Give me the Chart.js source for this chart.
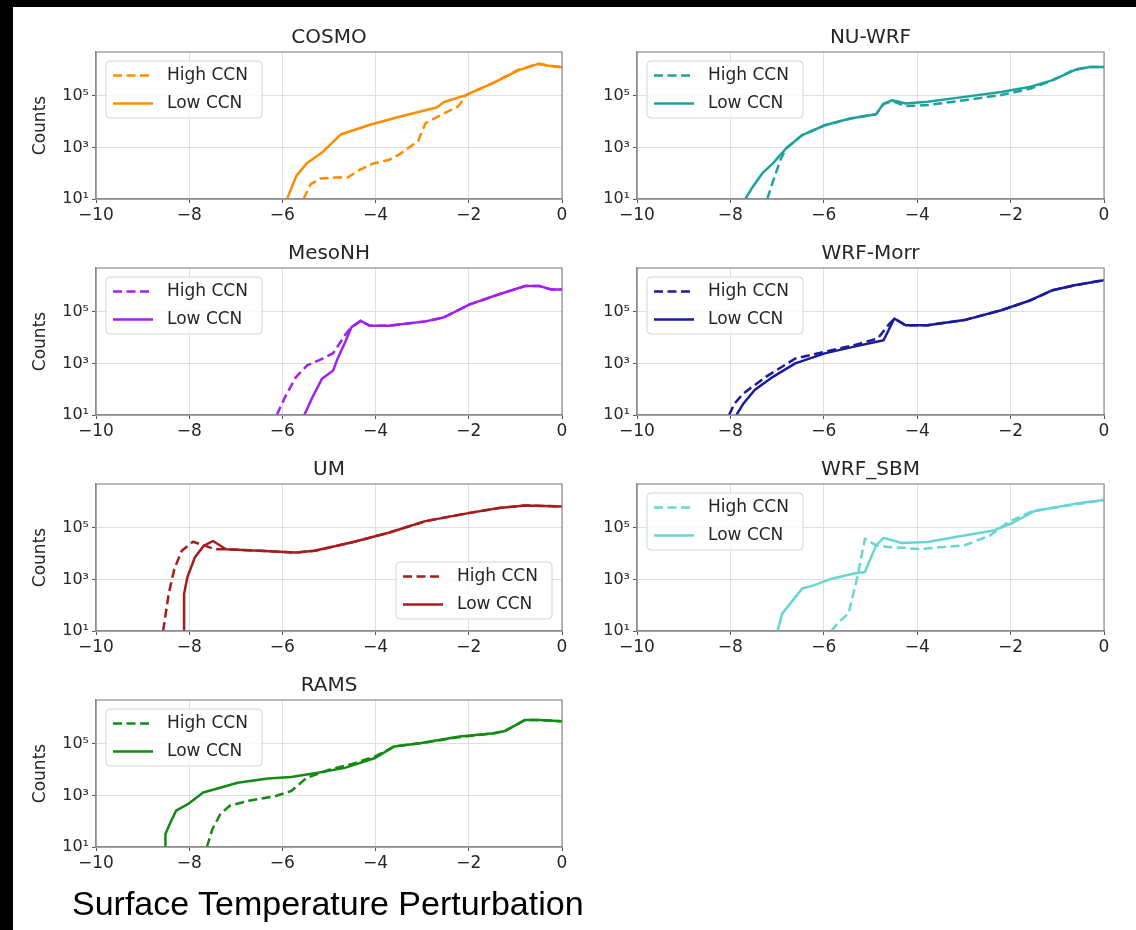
<!DOCTYPE html>
<html><head><meta charset="utf-8">
<script src="https://cdn.jsdelivr.net/npm/chart.js@4.4.0/dist/chart.umd.min.js"></script>
<style>
html,body{margin:0;padding:0;background:#fff;}
body{width:1136px;height:930px;position:relative;overflow:hidden;}
canvas{position:absolute;}
#topbar{position:absolute;left:0;top:0;width:1136px;height:7px;background:#000;z-index:5;}
#leftbar{position:absolute;left:0;top:0;width:13px;height:930px;background:#000;z-index:5;}
#xlabel{position:absolute;left:72px;top:886px;font-family:"Liberation Sans",Arial,sans-serif;font-size:34px;line-height:34px;color:#000;white-space:nowrap;z-index:5;}
</style>
</head>
<body>
<script>
// ---- tick labels ----
const xTickValues = [-10, -8, -6, -4, -2, 0];
const yTickValues = [10, 1000, 100000];
const yTickLabels = ['10\u00B9', '10\u00B3', '10\u2075'];
const seriesLabels = ['High CCN', 'Low CCN'];
const panelNames = ['COSMO', 'NU-WRF', 'MesoNH', 'WRF-Morr', 'UM', 'WRF_SBM', 'RAMS'];

// ---- COSMO ----
const cosmoHighX = [-5.55,-5.39,-5.19,-4.91,-4.60,-4.32,-4.04,-3.72,-3.49,-3.09,-2.93,-2.53,-2.22,-2.06,-1.43,-0.95,-0.51,-0.32,0];
const cosmoHighY = [10,38,62,68,68,141,240,324,537,1740,8710,20900,39800,107000,347000,1000000,1740000,1510000,1290000];
const cosmoLowX = [-5.90,-5.70,-5.47,-5.15,-4.75,-4.12,-3.49,-2.69,-2.53,-2.06,-1.43,-0.95,-0.51,-0.32,0];
const cosmoLowY = [10,79,251,631,3160,7590,15500,35500,57500,107000,347000,955000,1740000,1510000,1290000];

// ---- NU-WRF ----
const nuwrfHighX = [-7.21,-7.09,-6.93,-6.81,-6.46,-5.98,-5.43,-4.88,-4.72,-4.53,-4.25,-3.78,-2.99,-2.20,-1.57,-1.10,-0.63,-0.31,0];
const nuwrfHighY = [10,47,324,912,3020,7240,13200,19500,47900,63100,39800,43700,67600,107000,191000,407000,1050000,1320000,1320000];
const nuwrfLowX = [-7.68,-7.52,-7.32,-7.09,-6.81,-6.46,-5.98,-5.43,-4.88,-4.72,-4.53,-4.25,-3.78,-2.99,-2.20,-1.57,-1.10,-0.63,-0.31,0];
const nuwrfLowY = [10,30,98,240,912,3020,7240,13200,19500,50100,67600,50100,58900,91200,141000,224000,407000,1000000,1320000,1320000];

// ---- MesoNH ----
const mesoHighX = [-6.12,-5.94,-5.71,-5.47,-5.15,-4.91,-4.64,-4.52,-4.32,-4.12,-3.72,-2.93,-2.54,-1.98,-1.35,-0.79,-0.48,-0.24,0];
const mesoHighY = [10,51,295,832,1510,2510,13800,25100,44700,28800,28800,42700,60300,195000,479000,1000000,1000000,741000,741000];
const mesoLowX = [-5.53,-5.35,-5.15,-4.91,-4.83,-4.64,-4.52,-4.32,-4.12,-3.72,-2.93,-2.54,-1.98,-1.35,-0.79,-0.48,-0.24,0];
const mesoLowY = [10,51,257,537,1320,7590,25100,44700,28800,28800,42700,60300,195000,479000,1000000,1000000,741000,741000];

// ---- WRF-Morr ----
const morrHighX = [-8.03,-7.91,-7.72,-7.24,-6.61,-5.98,-5.35,-4.84,-4.65,-4.49,-4.25,-3.78,-2.99,-2.20,-1.57,-1.10,-0.63,0];
const morrHighY = [10,28,69,302,1550,2820,5130,9330,26300,55000,30200,30200,47900,115000,282000,692000,1070000,1700000];
const morrLowX = [-7.87,-7.72,-7.48,-7.09,-6.61,-5.98,-5.35,-4.72,-4.49,-4.25,-3.78,-2.99,-2.20,-1.57,-1.10,-0.63,0];
const morrLowY = [10,28,93,302,1000,2450,4470,7940,55000,30200,30200,47900,115000,282000,692000,1070000,1700000];

// ---- UM ----
const umHighX = [-8.56,-8.44,-8.32,-8.16,-7.92,-7.65,-7.45,-7.21,-6.50,-5.71,-5.31,-4.52,-3.72,-2.93,-1.98,-1.35,-0.79,0];
const umHighY = [10,275,2510,12900,28800,20000,14800,14800,12900,11000,12900,26900,64600,182000,380000,589000,741000,676000];
const umLowX = [-8.11,-8.11,-8.04,-7.88,-7.69,-7.49,-7.21,-6.50,-5.71,-5.31,-4.52,-3.72,-2.93,-1.98,-1.35,-0.79,0];
const umLowY = [10,275,1200,7080,20000,30900,14800,12900,11000,12900,26900,64600,182000,380000,589000,741000,676000];

// ---- WRF_SBM ----
const sbmHighX = [-5.84,-5.67,-5.47,-5.28,-5.12,-4.88,-4.57,-3.94,-2.99,-2.44,-2.05,-1.50,-0.63,0];
const sbmHighY = [10,23,48,1260,38000,20900,17800,15100,20900,50100,166000,468000,794000,1200000];
const sbmLowX = [-6.99,-6.89,-6.69,-6.46,-6.22,-5.83,-5.35,-5.12,-4.88,-4.72,-4.33,-3.78,-2.99,-2.36,-1.97,-1.50,-0.63,0];
const sbmLowY = [10,48,135,447,589,1070,1700,1950,20900,40700,25700,28200,50100,79400,151000,437000,851000,1200000];

// ---- RAMS ----
const ramsHighX = [-7.62,-7.50,-7.33,-7.13,-6.72,-6.14,-5.81,-5.48,-4.99,-4.50,-4.01,-3.60,-3.02,-2.20,-1.46,-1.22,-0.80,-0.48,0];
const ramsHighY = [10,50,191,398,617,955,1480,4790,10000,16600,32400,79400,107000,182000,257000,316000,832000,832000,759000];
const ramsLowX = [-8.51,-8.51,-8.40,-8.28,-8.03,-7.70,-7.45,-6.96,-6.31,-5.81,-5.24,-4.66,-4.01,-3.60,-3.02,-2.20,-1.46,-1.22,-0.80,-0.48,0];
const ramsLowY = [10,32,91,257,457,1290,1740,3090,4570,5130,7590,11700,28200,79400,107000,191000,257000,316000,832000,832000,759000];

const panelColors = ['#ff8c00', '#1fa29d', '#a020f0', '#1a1a9c', '#a51d1d', '#66d6d3', '#138a13'];

const panels = [
  {name: panelNames[0], color: panelColors[0], col: 0, row: 0, hx: cosmoHighX, hy: cosmoHighY, lx: cosmoLowX, ly: cosmoLowY, corner: 'tl'},
  {name: panelNames[1], color: panelColors[1], col: 1, row: 0, hx: nuwrfHighX, hy: nuwrfHighY, lx: nuwrfLowX, ly: nuwrfLowY, corner: 'tl'},
  {name: panelNames[2], color: panelColors[2], col: 0, row: 1, hx: mesoHighX, hy: mesoHighY, lx: mesoLowX, ly: mesoLowY, corner: 'tl'},
  {name: panelNames[3], color: panelColors[3], col: 1, row: 1, hx: morrHighX, hy: morrHighY, lx: morrLowX, ly: morrLowY, corner: 'tl'},
  {name: panelNames[4], color: panelColors[4], col: 0, row: 2, hx: umHighX, hy: umHighY, lx: umLowX, ly: umLowY, corner: 'br'},
  {name: panelNames[5], color: panelColors[5], col: 1, row: 2, hx: sbmHighX, hy: sbmHighY, lx: sbmLowX, ly: sbmLowY, corner: 'tl'},
  {name: panelNames[6], color: panelColors[6], col: 0, row: 3, hx: ramsHighX, hy: ramsHighY, lx: ramsLowX, ly: ramsLowY, corner: 'tl'}
];

const FONT = 'DejaVu Sans';
const TXT = '#262626';

const frameLegend = {
  id: 'frameLegend',
  afterDatasetsDraw(chart, args, opts) {
    const {ctx, chartArea: a} = chart;
    ctx.save();
    ctx.strokeStyle = '#8c8c8c';
    ctx.lineWidth = 1.2;
    ctx.setLineDash([]);
    ctx.strokeRect(a.left, a.top, a.right - a.left, a.bottom - a.top);
    const W = 156, H = 57;
    const x0 = opts.corner === 'br' ? a.right - 10 - W : a.left + 10;
    const y0 = opts.corner === 'br' ? a.bottom - 12 - H : a.top + 9;
    ctx.beginPath();
    ctx.roundRect(x0, y0, W, H, 4);
    ctx.fillStyle = 'rgba(255,255,255,0.85)';
    ctx.fill();
    ctx.strokeStyle = '#d4d4d4';
    ctx.lineWidth = 1;
    ctx.stroke();
    chart.data.datasets.forEach((ds, i) => {
      const cy = y0 + 14.5 + i * 28;
      ctx.beginPath();
      ctx.strokeStyle = ds.borderColor;
      ctx.lineWidth = ds.borderWidth;
      ctx.setLineDash(ds.borderDash || []);
      ctx.moveTo(x0 + 7, cy);
      ctx.lineTo(x0 + 47, cy);
      ctx.stroke();
      ctx.setLineDash([]);
      ctx.fillStyle = TXT;
      ctx.font = '17px "' + FONT + '"';
      ctx.textBaseline = 'middle';
      ctx.textAlign = 'left';
      ctx.fillText(ds.label, x0 + 61, cy);
    });
    ctx.restore();
  }
};

function pts(xs, ys) { return xs.map((x, i) => ({x: x, y: ys[i]})); }

panels.forEach(p => {
  const cv = document.createElement('canvas');
  const left = p.col === 0 ? 0 : 580;
  const w = p.col === 0 ? 580 : 556;
  cv.width = w; cv.height = 250;
  cv.style.left = left + 'px';
  cv.style.top = (216 * p.row) + 'px';
  cv.style.width = w + 'px'; cv.style.height = '250px';
  document.body.appendChild(cv);
  new Chart(cv, {
    type: 'line',
    data: {
      datasets: [
        {label: seriesLabels[0], data: pts(p.hx, p.hy), borderColor: p.color, borderWidth: 2.5, borderDash: [9, 4.5],
         pointRadius: 0, fill: false, tension: 0, order: 1, borderJoinStyle: 'round'},
        {label: seriesLabels[1], data: pts(p.lx, p.ly), borderColor: p.color, borderWidth: 2.5,
         pointRadius: 0, fill: false, tension: 0, order: 0, borderJoinStyle: 'round'}
      ]
    },
    options: {
      responsive: false, animation: false, devicePixelRatio: 1,
      events: [],
      layout: {padding: {left: 0, right: p.col === 0 ? 18 : 32, top: 0, bottom: 0}},
      plugins: {
        legend: {display: false},
        tooltip: {enabled: false},
        title: {display: true, text: p.name, fullSize: false, color: TXT,
                font: {family: FONT, size: 20, weight: 'normal', lineHeight: 1.2},
                padding: {top: 26, bottom: 2}},
        frameLegend: {corner: p.corner}
      },
      scales: {
        x: {
          type: 'linear', min: -10, max: 0,
          afterBuildTicks(s) { s.ticks = xTickValues.map(v => ({value: v})); },
          ticks: {autoSkip: false, maxRotation: 0, padding: 2, color: TXT,
                  font: {family: FONT, size: 17},
                  callback: v => v === 0 ? '0' : (v < 0 ? '\u2212' + Math.abs(v) : String(v))},
          grid: {color: '#dedede', lineWidth: 1, tickLength: 4, tickColor: '#555'},
          border: {color: '#8c8c8c', width: 1.2},
          afterFit(s) { s.height = 51; }
        },
        y: {
          type: 'logarithmic', min: 10, max: 5011872,
          afterBuildTicks(s) { s.ticks = yTickValues.map(v => ({value: v})); },
          ticks: {padding: 3, color: TXT, font: {family: FONT, size: 16},
                  callback: v => { const k = yTickValues.indexOf(v); return k >= 0 ? yTickLabels[k] : ''; }},
          grid: {color: '#dedede', lineWidth: 1, tickLength: 4, tickColor: '#555'},
          border: {color: '#8c8c8c', width: 1.2},
          title: p.col === 0 ? {display: true, text: 'Counts', color: TXT,
                  font: {family: FONT, size: 17, lineHeight: 1.2}, padding: {top: 30, bottom: 0}} : {display: false},
          afterFit(s) { s.width = p.col === 0 ? 96 : 57; }
        }
      }
    },
    plugins: [frameLegend]
  });
});

['topbar', 'leftbar'].forEach(id => { const d = document.createElement('div'); d.id = id; document.body.appendChild(d); });
const xl = document.createElement('div');
xl.id = 'xlabel';
xl.textContent = 'Surface Temperature Perturbation';
document.body.appendChild(xl);
</script>
</body></html>
